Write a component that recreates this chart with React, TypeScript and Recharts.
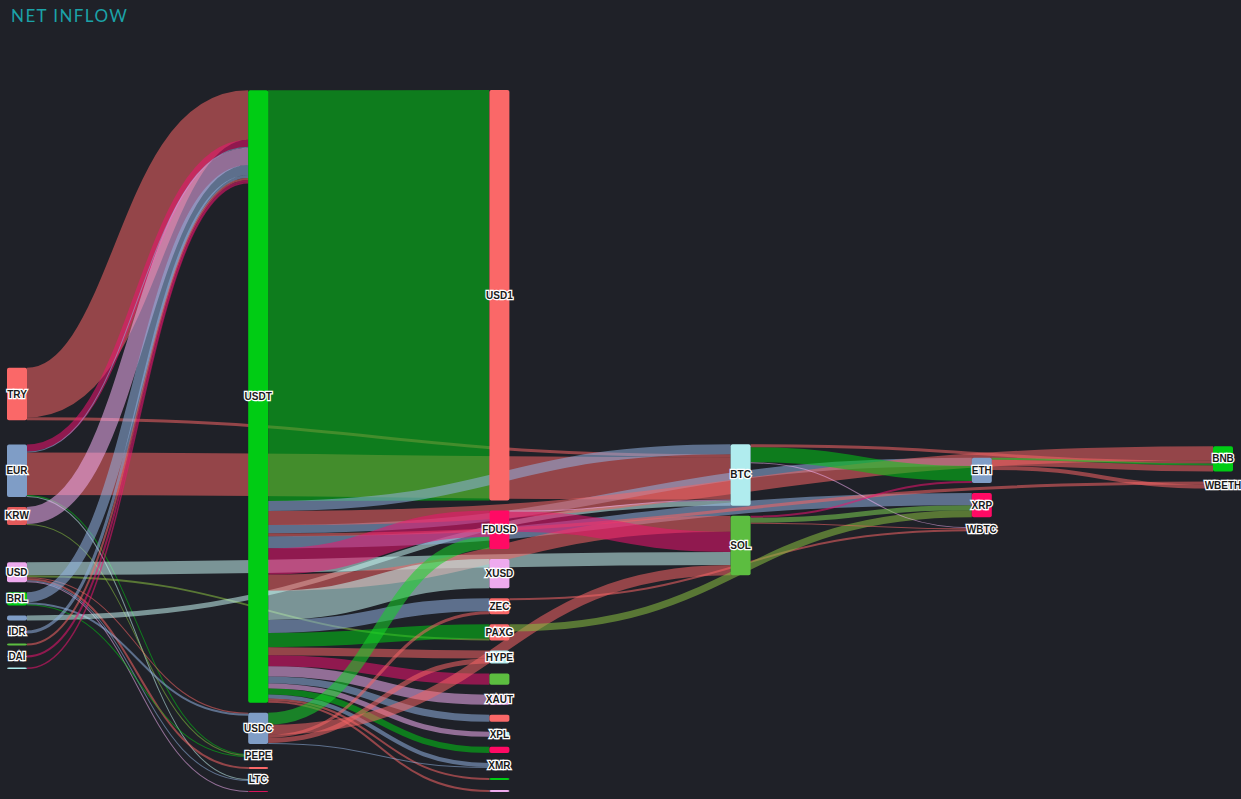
import { Sankey } from "recharts";

// node list, in column order (top to bottom as drawn)
const nodeNames = [
  "TRY", "EUR", "KRW", "USD", "BRL", "other-a", "IDR", "other-b", "DAI", "other-c",
  "USDT", "USDC", "PEPE", "other-d", "LTC", "other-e",
  "USD1", "FDUSD", "XUSD", "ZEC", "PAXG", "HYPE", "other-f", "XAUT", "other-g", "XPL",
  "other-h", "XMR", "other-i", "other-j",
  "BTC", "SOL",
  "ETH", "XRP", "WBTC",
  "BNB", "WBETH",
];

const nodeColorKeys = [
  "salmon", "slate", "red", "lavender", "green", "slate", "lavender", "lime", "slate", "cyan",
  "green", "slate", "lime", "salmon", "slate", "crimson",
  "salmon", "pink", "lavender", "salmon", "salmon", "cyan", "lime", "lavender", "salmon", "cyan",
  "pink", "slate", "green", "lavender",
  "cyan", "lime",
  "slate", "pink", "salmon",
  "green", "slate",
];

// nodes whose labels are hidden in the chart (overlap)
const hiddenLabels = ["other-a", "other-b", "other-c", "other-d", "other-e", "other-f", "other-g", "other-h", "other-i", "other-j"];

// [source, target, value, colour]
const flows: [string, string, number, string][] = [
  ["TRY", "USDT", 49, "red"],
  ["TRY", "BTC", 3, "red"],
  ["EUR", "BTC", 42, "red"],
  ["EUR", "USDT", 7, "crimson"],
  ["EUR", "USDT", 1, "slate"],
  ["EUR", "PEPE", 1, "green"],
  ["EUR", "LTC", 1, "teal"],
  ["KRW", "USDT", 17, "lavender"],
  ["KRW", "PEPE", 1, "olive"],
  ["USD", "SOL", 13, "teal"],
  ["USD", "PAXG", 2, "olive"],
  ["USD", "other-d", 2, "red"],
  ["USD", "LTC", 1, "slate"],
  ["USD", "other-e", 1, "lavender"],
  ["USD", "USDC", 1, "red"],
  ["BRL", "USDT", 10, "slate"],
  ["BRL", "USDC", 2, "slate"],
  ["BRL", "PEPE", 1, "green"],
  ["other-a", "BTC", 5, "teal"],
  ["IDR", "USDT", 3, "slate"],
  ["other-b", "USDT", 2, "red"],
  ["DAI", "USDT", 2, "crimson"],
  ["other-c", "USDT", 1.5, "crimson"],
  ["USDT", "USD1", 407, "green"],
  ["USDT", "BTC", 10, "slate"],
  ["USDT", "ETH", 8, "slate"],
  ["USDT", "XRP", 12, "slate"],
  ["USDT", "SOL", 16, "red"],
  ["USDT", "BNB", 14, "red"],
  ["USDT", "WBETH", 3, "red"],
  ["USDT", "FDUSD", 26, "crimson"],
  ["USDT", "XUSD", 29, "teal"],
  ["USDT", "ZEC", 13, "slate"],
  ["USDT", "PAXG", 14, "green"],
  ["USDT", "HYPE", 8, "red"],
  ["USDT", "other-f", 11, "crimson"],
  ["USDT", "XAUT", 10, "lavender"],
  ["USDT", "other-g", 7, "slate"],
  ["USDT", "XPL", 5, "lavender"],
  ["USDT", "other-h", 6, "green"],
  ["USDT", "XMR", 4, "slate"],
  ["USDT", "other-i", 2, "red"],
  ["USDT", "other-j", 2, "red"],
  ["USDC", "SOL", 10, "red"],
  ["USDC", "FDUSD", 12, "bright"],
  ["USDC", "ZEC", 3, "red"],
  ["USDC", "HYPE", 5, "red"],
  ["USDC", "XMR", 1, "slate"],
  ["FDUSD", "SOL", 20, "crimson"],
  ["FDUSD", "BTC", 1, "lavender"],
  ["ZEC", "WBTC", 2, "red"],
  ["PAXG", "XRP", 7, "olive"],
  ["BTC", "ETH", 15, "green"],
  ["BTC", "BNB", 3, "red"],
  ["BTC", "WBTC", 1, "lavender"],
  ["SOL", "ETH", 2, "crimson"],
  ["SOL", "XRP", 5, "lime"],
  ["SOL", "WBTC", 1, "red"],
  ["ETH", "WBETH", 4, "red"],
  ["ETH", "BNB", 2, "bright"],
  ["ETH", "BNB", 6, "red"],
];

const NODE_COLORS: Record<string, string> = {
  salmon: "#fa6868",
  red: "#e35a5a",
  slate: "#7f9dc6",
  lavender: "#eeaaee",
  green: "#00cc14",
  lime: "#5cbd40",
  pink: "#ff0a64",
  crimson: "#d8145c",
  cyan: "#b0ecee",
};

const LINK_COLORS: Record<string, string> = {
  red: "#f46464",
  crimson: "#ec1470",
  slate: "#8fb0de",
  lavender: "#f0aef0",
  teal: "#c4f4f0",
  green: "#00c814",
  bright: "#16d428",
  olive: "#88c040",
  lime: "#7cd050",
};

const BG = "#1f2128";

const data = {
  nodes: nodeNames.map((name, i) => ({
    name,
    color: NODE_COLORS[nodeColorKeys[i]],
    showLabel: !hiddenLabels.includes(name),
  })),
  links: flows.map(([s, t, value, c]) => ({
    source: nodeNames.indexOf(s),
    target: nodeNames.indexOf(t),
    value,
    color: LINK_COLORS[c],
  })),
};

function FlowNode(props: any) {
  const { x, y, width, height, payload } = props;
  return (
    <g>
      <rect x={x} y={y} width={width} height={Math.max(height, 1)} rx={2} ry={2} fill={payload.color} />
      {payload.showLabel && (
        <text
          x={x + width / 2}
          y={y + height / 2}
          textAnchor="middle"
          dominantBaseline="central"
          fontSize={10}
          fontWeight="bold"
          fontFamily="'Liberation Sans', Arial, sans-serif"
          fill="#1a1a1a"
          stroke="#ffffff"
          strokeWidth={2.5}
          paintOrder="stroke"
        >
          {payload.name}
        </text>
      )}
    </g>
  );
}

function FlowLink(props: any) {
  const { sourceX, targetX, sourceY, targetY, sourceControlX, targetControlX, linkWidth, payload } = props;
  return (
    <path
      d={`M${sourceX},${sourceY} C${sourceControlX},${sourceY} ${targetControlX},${targetY} ${targetX},${targetY}`}
      fill="none"
      stroke={payload.color}
      strokeWidth={Math.max(linkWidth, 1)}
      strokeOpacity={0.55}
    />
  );
}

export default function App() {
  return (
    <div style={{ position: "relative", width: 1241, height: 799, background: BG, overflow: "hidden" }}>
      <style>{`body{margin:0;background:${BG};}`}</style>
      <div
        style={{
          position: "absolute",
          left: 11,
          top: 5,
          color: "#1ba3a8",
          fontFamily: "Lato, 'Open Sans', sans-serif",
          fontSize: 17,
          letterSpacing: 1.4,
        }}
      >
        NET INFLOW
      </div>
      <Sankey
        width={1241}
        height={799}
        data={data}
        nodeWidth={20}
        nodePadding={10}
        iterations={32}
        sort={false}
        align="left"
        linkCurvature={0.5}
        margin={{ top: 90, right: 8, bottom: 7, left: 7 }}
        node={<FlowNode />}
        link={<FlowLink />}
      />
    </div>
  );
}
